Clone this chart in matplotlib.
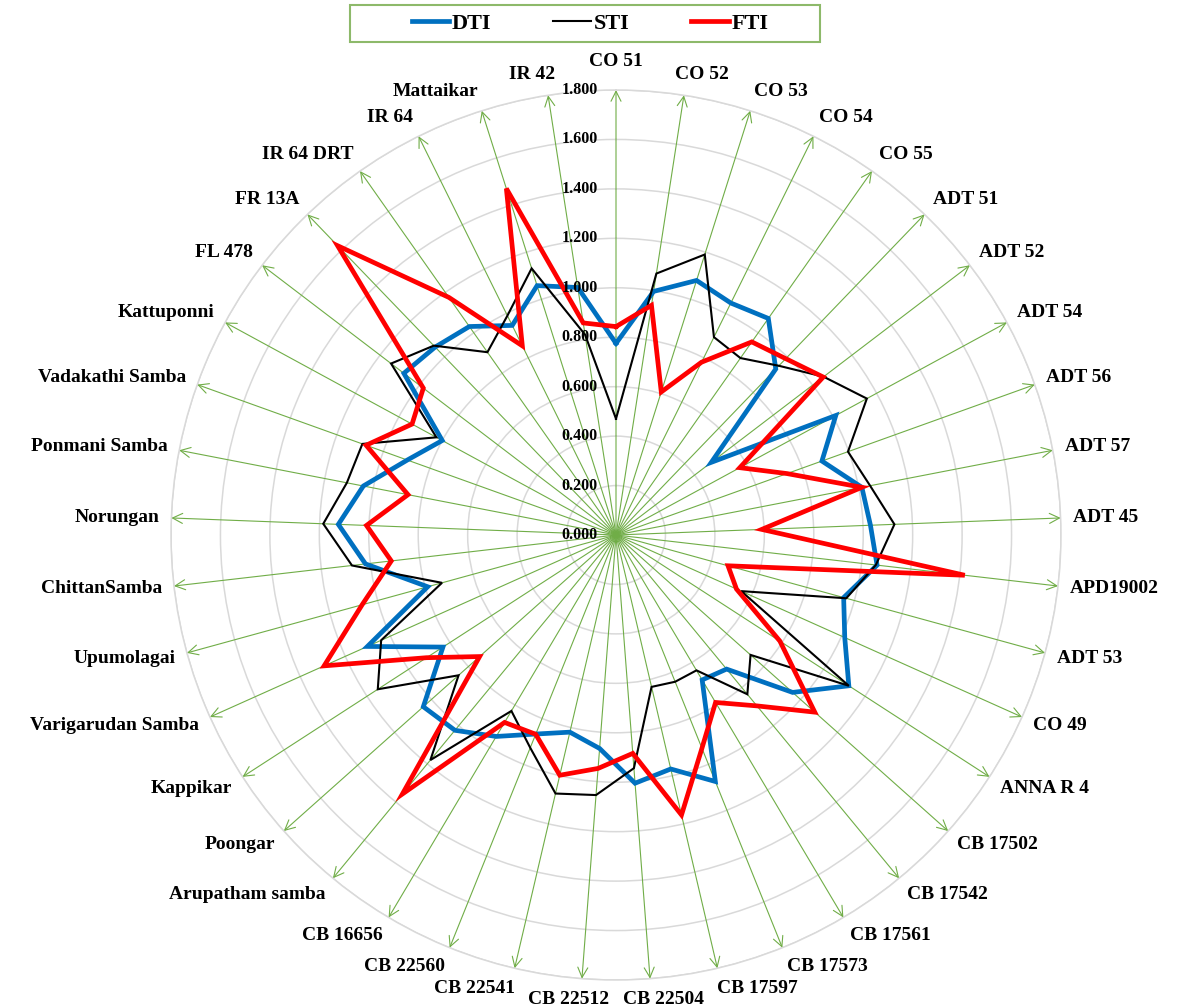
import numpy as np
import matplotlib
matplotlib.use('Agg')
import matplotlib.pyplot as plt
from matplotlib.patches import Rectangle
from matplotlib.lines import Line2D

genotypes = ['CO 51', 'CO 52', 'CO 53', 'CO 54', 'CO 55', 'ADT 51', 'ADT 52', 'ADT 54',
             'ADT 56', 'ADT 57', 'ADT 45', 'APD19002', 'ADT 53', 'CO 49', 'ANNA R 4',
             'CB 17502', 'CB 17542', 'CB 17561', 'CB 17573', 'CB 17597', 'CB 22504',
             'CB 22512', 'CB 22541', 'CB 22560', 'CB 16656', 'Arupatham samba', 'Poongar',
             'Kappikar', 'Varigarudan Samba', 'Upumolagai', 'ChittanSamba', 'Norungan',
             'Ponmani Samba', 'Vadakathi Samba', 'Kattuponni', 'FL 478', 'FR 13A',
             'IR 64 DRT', 'IR 64', 'Mattaikar', 'IR 42']

dti = [0.775, 0.997, 1.080, 1.047, 1.071, 0.932, 0.485, 1.012, 0.885, 1.013, 1.030,
       1.063, 0.955, 1.014, 1.122, 0.957, 0.703, 0.682, 1.075, 0.972, 1.007,
       0.866, 0.819, 0.868, 0.948, 1.024, 1.044, 0.834, 1.102, 0.790, 1.020,
       1.124, 1.041, 0.897, 0.800, 1.079, 1.055, 1.031, 0.946, 1.058, 1.013]

sti = [0.470, 1.070, 1.190, 0.893, 0.875, 0.950, 1.056, 1.155, 0.997, 1.047, 1.127,
       1.058, 0.966, 0.555, 1.122, 0.729, 0.835, 0.637, 0.640, 0.631, 0.946,
       1.055, 1.074, 0.928, 0.828, 1.180, 0.853, 1.148, 1.041, 0.730, 1.075,
       1.185, 1.109, 1.090, 0.827, 1.144, 1.063, 0.904, 0.990, 1.131, 0.820]

fti = [0.843, 0.940, 0.607, 0.780, 0.955, 0.990, 1.054, 0.570, 0.735, 1.013, 0.590,
       1.420, 0.470, 0.534, 0.790, 1.077, 0.896, 0.788, 0.930, 1.163, 0.886,
       0.947, 0.998, 0.869, 0.882, 1.358, 0.739, 0.913, 1.294, 1.065, 0.915,
       1.010, 0.857, 1.074, 0.939, 0.980, 1.624, 1.175, 0.854, 1.470, 0.868]

r_ticks = [0.0, 0.2, 0.4, 0.6, 0.8, 1.0, 1.2, 1.4, 1.6, 1.8]
r_tick_labels = ['0.000', '0.200', '0.400', '0.600', '0.800', '1.000',
                 '1.200', '1.400', '1.600', '1.800']
series_names = ['DTI', 'STI', 'FTI']

plt.rcParams['font.family'] = ['Liberation Serif', 'DejaVu Serif']
plt.rcParams['font.weight'] = 'bold'

W, H = 1181, 1007
fig = plt.figure(figsize=(W / 100, H / 100), dpi=100)
cx, cy, R = 616, 535, 445
ax = fig.add_axes([(cx - R) / W, (H - cy - R) / H, 2 * R / W, 2 * R / H], polar=True)
ax.set_theta_zero_location('N')
ax.set_theta_direction(-1)
ax.set_ylim(0, r_ticks[-1])

n = len(genotypes)
theta = np.arange(n) * 2 * np.pi / n

ax.set_xticks([])
ax.set_yticks(r_ticks[1:])
ax.set_yticklabels([])
ax.yaxis.grid(True, color='#D9D9D9', lw=1.1)
ax.xaxis.grid(False)
ax.spines['polar'].set_color('#D9D9D9')
ax.spines['polar'].set_linewidth(1.1)
ax.set_facecolor('white')

green = '#70AD47'
for t in theta:
    ax.annotate('', xy=(t, r_ticks[-1]), xytext=(t, 0), annotation_clip=False,
                arrowprops=dict(arrowstyle='->', color=green, lw=0.8,
                                mutation_scale=18, shrinkA=0, shrinkB=0), zorder=2)

tt = np.append(theta, theta[0])
def closed(v):
    return np.append(v, v[0])

ax.plot(tt, closed(dti), color='#0070C0', lw=3.4, zorder=4, solid_joinstyle='miter')
ax.plot(tt, closed(sti), color='black', lw=1.5, zorder=5, solid_joinstyle='miter')
ax.plot(tt, closed(fti), color='#FF0000', lw=3.4, zorder=6, solid_joinstyle='miter')

for r, lab in zip(r_ticks, r_tick_labels):
    ax.annotate(lab, xy=(0, r), xytext=(-18, 0), textcoords='offset pixels',
                ha='right', va='center', fontsize=11.5, fontweight='bold', zorder=7)

labels = []
for t, lab in zip(theta, genotypes):
    a = ax.annotate(lab, xy=(t, r_ticks[-1]), xytext=(0, 0), textcoords='offset pixels',
                    ha='center', va='center', fontsize=14, fontweight='bold',
                    annotation_clip=False)
    labels.append(a)

fig.canvas.draw()
renderer = fig.canvas.get_renderer()
gap = 12
for a, t in zip(labels, theta):
    bb = a.get_window_extent(renderer)
    w, h = bb.width, bb.height
    s, c = np.sin(t), np.cos(t)
    fx = np.sign(s) * min(1.0, abs(s) * 4)
    dx = s * gap + fx * w / 2
    dy = c * gap + c * h / 2 + (8 if abs(s) < 0.01 else 0)
    a.xyann = (dx, dy)

# legend
fig.patches.append(Rectangle((350 / W, 1 - 42 / H), 470 / W, 37 / H, transform=fig.transFigure,
                             facecolor='white', edgecolor='#8DB96A', lw=1.5))
handles = [Line2D([], [], color='#0070C0', lw=3.4),
           Line2D([], [], color='black', lw=1.5),
           Line2D([], [], color='#FF0000', lw=3.4)]
fig.legend(handles, series_names, ncol=3, loc='center', bbox_to_anchor=(590 / W, 1 - 23.5 / H),
           frameon=False, prop={'size': 16, 'weight': 'bold'}, handlelength=1.7,
           handletextpad=0.1, columnspacing=2.8)

fig.savefig('out.png', dpi=100, facecolor='white')
